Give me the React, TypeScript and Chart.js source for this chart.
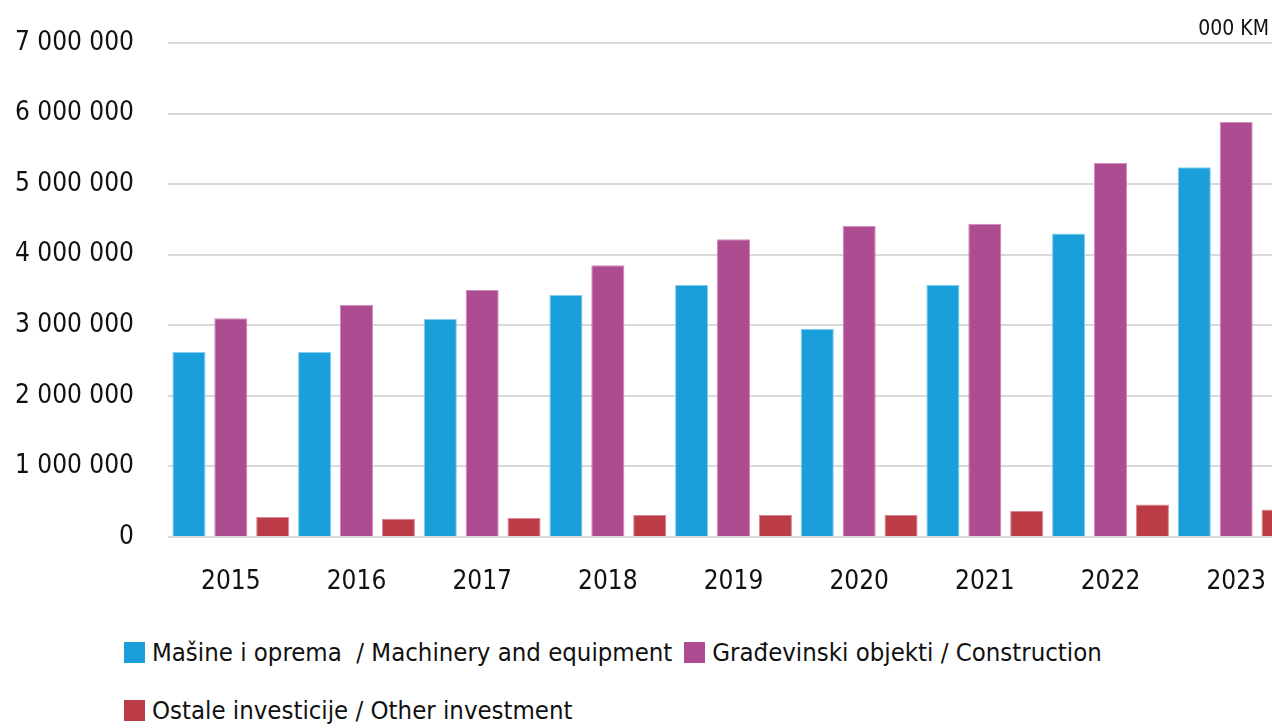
import React, { useEffect, useRef } from "react";
import { Chart, registerables } from "chart.js";

Chart.register(...registerables);

const CATEGORIES = ["2015", "2016", "2017", "2018", "2019", "2020", "2021", "2022", "2023"];
const MACHINERY = [2620000, 2620000, 3090000, 3430000, 3570000, 2950000, 3575000, 4300000, 5240000];
const CONSTRUCTION = [3100000, 3290000, 3500000, 3850000, 4220000, 4410000, 4440000, 5300000, 5880000];
const OTHER = [285000, 260000, 270000, 310000, 310000, 310000, 370000, 460000, 390000];

const SERIES_LABELS = [
  "Mašine i oprema  / Machinery and equipment",
  "Građevinski objekti / Construction",
  "Ostale investicije / Other investment",
];
const SERIES_COLORS = ["#1b9fda", "#ae4c91", "#bb3b47"];
const SERIES_BORDERS = ["#84cdef", "#cf8cbd", "#d98790"];
const LEGEND_ROWS = [[0, 1], [2]];
const Y_MAX = 7000000;
const Y_STEP = 1000000;
const UNIT_LABEL = "000 KM";

const FONT = "'Liberation Sans Narrow', 'DejaVu Sans Condensed', 'Arial Narrow', sans-serif";

const fmt = (v: number) => Math.round(v).toString().replace(/\B(?=(\d{3})+(?!\d))/g, " ");

export default function App() {
  const ref = useRef<HTMLCanvasElement | null>(null);

  useEffect(() => {
    if (!ref.current) return;
    const data = [MACHINERY, CONSTRUCTION, OTHER];
    const chart = new Chart(ref.current, {
      type: "bar",
      data: {
        labels: CATEGORIES,
        datasets: data.map((d, i) => ({
          label: SERIES_LABELS[i],
          data: d,
          backgroundColor: SERIES_COLORS[i],
          borderColor: SERIES_BORDERS[i],
          borderWidth: 1,
          categoryPercentage: 1.0,
          barPercentage: 0.79,
        })),
      },
      options: {
        responsive: false,
        animation: false,
        devicePixelRatio: 1,
        layout: { padding: { top: 43, right: 0, bottom: 0, left: 0 } },
        plugins: {
          legend: { display: false },
          tooltip: { enabled: false },
        },
        scales: {
          x: {
            grid: { display: false, drawTicks: false },
            border: { display: false },
            ticks: {
              color: "#111",
              font: { family: FONT, size: 26 },
              padding: 30,
            },
            afterFit: (s: any) => {
              s.height = 70;
            },
          },
          y: {
            min: 0,
            max: Y_MAX,
            grid: { color: "#d9d9d9", lineWidth: 2, drawTicks: false },
            border: { display: false },
            ticks: {
              stepSize: Y_STEP,
              color: "#111",
              font: { family: FONT, size: 26 },
              padding: 34,
              callback: (v: any) => fmt(Number(v)),
            },
            afterFit: (s: any) => {
              s.width = 168;
              s.paddingTop = 0;
              s.paddingBottom = 0;
            },
          },
        },
      },
    });
    return () => chart.destroy();
  }, []);

  return (
    <div
      style={{
        position: "fixed",
        top: 0,
        left: 0,
        width: 1272,
        height: 728,
        overflow: "hidden",
        background: "#fff",
        fontFamily: FONT,
      }}
    >
      <canvas ref={ref} width={1299} height={607} style={{ display: "block", width: 1299, height: 607 }} />
      <div
        style={{
          position: "absolute",
          right: 3,
          top: 14,
          fontSize: 21,
          color: "#111",
          lineHeight: "28px",
        }}
      >
        {UNIT_LABEL}
      </div>
      <div style={{ position: "absolute", left: 124, top: 634, width: 1148 }}>
        {LEGEND_ROWS.map((row, r) => (
          <div key={r} style={{ display: "flex", columnGap: 12, height: 36, marginBottom: 22 }}>
            {row.map((i) => (
              <div key={i} style={{ display: "flex", alignItems: "center", height: 36 }}>
                <span
                  style={{
                    display: "inline-block",
                    width: 21,
                    height: 21,
                    background: SERIES_COLORS[i],
                    marginRight: 7,
                  }}
                />
                <span style={{ fontSize: 25.5, color: "#111", whiteSpace: "pre", lineHeight: "36px" }}>
                  {SERIES_LABELS[i]}
                </span>
              </div>
            ))}
          </div>
        ))}
      </div>
    </div>
  );
}
